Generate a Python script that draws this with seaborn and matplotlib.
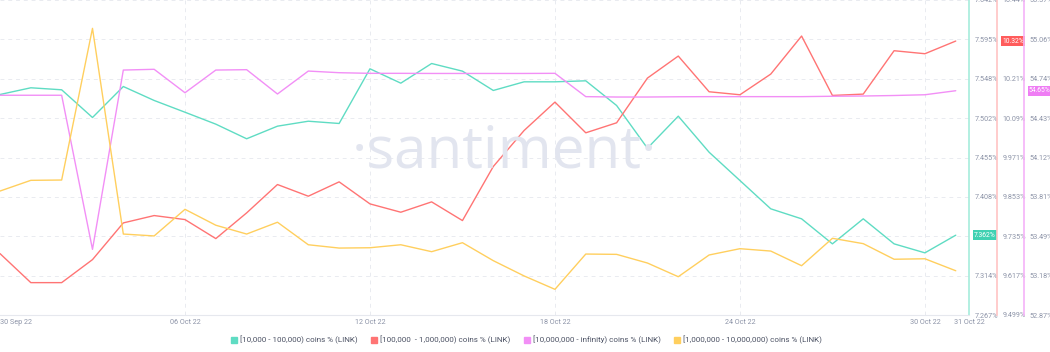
import numpy as np
import pandas as pd
import matplotlib
matplotlib.use("Agg")
import matplotlib.pyplot as plt
from matplotlib.lines import Line2D
import seaborn as sns

# ---------------- data ----------------
dates = pd.date_range("2022-09-30", "2022-10-31", freq="D")

teal_vals = [7.5295, 7.5375, 7.5351, 7.5021, 7.5390, 7.5224, 7.5084, 7.4942,
             7.4768, 7.4918, 7.4977, 7.4950, 7.5601, 7.5430, 7.5664, 7.5573,
             7.5343, 7.5446, 7.5446, 7.5458, 7.5164, 7.4656, 7.5037, 7.4608,
             7.4271, 7.3934, 7.3815, 7.3517, 7.3815, 7.3517, 7.3410, 7.3620]
red_vals = [9.683, 9.596, 9.596, 9.665, 9.775, 9.797, 9.785, 9.728,
            9.805, 9.890, 9.855, 9.898, 9.832, 9.807, 9.838, 9.782,
            9.944, 10.052, 10.137, 10.045, 10.075, 10.209, 10.275, 10.168,
            10.159, 10.221, 10.335, 10.157, 10.161, 10.291, 10.282, 10.320]
pink_vals = [54.614, 54.614, 54.614, 53.391, 54.814, 54.820, 54.634, 54.814,
             54.817, 54.624, 54.806, 54.793, 54.788, 54.788, 54.787, 54.787,
             54.787, 54.787, 54.788, 54.603, 54.600, 54.600, 54.602, 54.603,
             54.603, 54.603, 54.603, 54.606, 54.608, 54.612, 54.618, 54.650]
yellow_vals = [28.787, 28.855, 28.857, 29.820, 28.514, 28.502, 28.671, 28.570,
               28.514, 28.589, 28.446, 28.425, 28.427, 28.446, 28.402, 28.459,
               28.345, 28.248, 28.163, 28.387, 28.385, 28.330, 28.243, 28.381,
               28.421, 28.406, 28.313, 28.487, 28.453, 28.354, 28.357, 28.281]

series_names = ["[10,000 - 100,000) coins % (LINK)",
                "[100,000  - 1,000,000) coins % (LINK)",
                "[10,000,000 - infinity) coins % (LINK)",
                "[1,000,000 - 10,000,000) coins % (LINK)"]
x_tick_dates = ["2022-09-30", "2022-10-06", "2022-10-12", "2022-10-18",
                "2022-10-24", "2022-10-30"]
x_tick_labels = ["30 Sep 22", "06 Oct 22", "12 Oct 22", "18 Oct 22",
                 "24 Oct 22", "30 Oct 22"]
end_label = "31 Oct 22"

# tick labels (those hidden under the last-value boxes are left blank)
teal_ticklabels = ["7.267%", "7.314%", "", "7.408%", "7.455%",
                   "7.502%", "7.548%", "7.595%", "7.642%"]
red_ticklabels = ["9.499%", "9.617%", "9.735%", "9.853%", "9.971%",
                  "10.09%", "10.21%", "", "10.44%"]
pink_ticklabels = ["52.87%", "53.18%", "53.49%", "53.81%", "54.12%",
                   "54.43%", "54.74%", "55.06%", "55.37%"]
last_labels = ["7.362%", "10.32%", "54.65%"]

teal_lim = (7.267, 7.642)
red_lim = (9.499, 10.443)
pink_lim = (52.87, 55.37)
yellow_lim = (28.0, 30.0)

# ---------------- style ----------------
sns.set_style("white")
plt.rcParams["font.family"] = ["Roboto", "DejaVu Sans"]

c_teal, c_red, c_pink, c_yel = "#5fdcc3", "#ff7474", "#f28ff6", "#ffcf5e"
c_teal_ax, c_red_ax, c_pink_ax = "#a6ecdc", "#ffc4c4", "#f5b3f8"
tick_col = "#8d94a8"
grid_col = "#e9ebf0"

W, H = 1050, 352
fig = plt.figure(figsize=(W / 100, H / 100), dpi=100)
ax = fig.add_axes([0, 37 / H, 969 / W, 315 / H])
ax_r = ax.twinx()
ax_p = ax.twinx()
ax_y = ax.twinx()

x0 = dates[0]
ax.set_xlim(x0 + pd.Timedelta(days=0.1), x0 + pd.Timedelta(days=31.43))

# watermark
fig.text(504 / W, (H - 168) / H, "\u00b7santiment\u00b7", ha="center", va="baseline",
         fontsize=42, color="#e2e5ef", family=["Open Sans", "DejaVu Sans"],
         fontweight="normal", zorder=0)

lw = 1.0
sns.lineplot(x=dates, y=teal_vals, ax=ax, color=c_teal, linewidth=lw)
sns.lineplot(x=dates, y=red_vals, ax=ax_r, color=c_red, linewidth=lw)
sns.lineplot(x=dates, y=pink_vals, ax=ax_p, color=c_pink, linewidth=lw)
sns.lineplot(x=dates, y=yellow_vals, ax=ax_y, color=c_yel, linewidth=lw)

for a in (ax, ax_r, ax_p, ax_y):
    a.patch.set_alpha(0)
    for s in a.spines.values():
        s.set_visible(False)
    a.set_ylabel("")
    a.set_xlabel("")

ax.set_ylim(*teal_lim)
ax_r.set_ylim(*red_lim)
ax_p.set_ylim(*pink_lim)
ax_y.set_ylim(*yellow_lim)
ax_y.set_yticks([])

for a, lim, labels, col, pos in ((ax, teal_lim, teal_ticklabels, c_teal_ax, 1.0),
                                 (ax_r, red_lim, red_ticklabels, c_red_ax, 997 / 969),
                                 (ax_p, pink_lim, pink_ticklabels, c_pink_ax, 1024 / 969)):
    ticks = np.linspace(lim[0], lim[1], len(labels))
    a.yaxis.set_ticks_position("right")
    a.set_yticks(ticks)
    a.set_yticklabels(labels)
    a.tick_params(axis="y", length=0, pad=4, labelsize=5.2, labelcolor=tick_col,
                  left=False, labelleft=False, right=False, labelright=True)
    sp = a.spines["right"]
    sp.set_visible(True)
    sp.set_position(("axes", pos))
    sp.set_color(col)
    sp.set_linewidth(1.2)

# grid
ax.grid(True, axis="both", color=grid_col, linestyle=(0, (4, 4)), linewidth=0.7)
ax.set_axisbelow(True)
ax.spines["bottom"].set_visible(True)
ax.spines["bottom"].set_color("#e6e8ee")
ax.spines["bottom"].set_linewidth(0.8)

# x ticks
xt = [pd.Timestamp(d) for d in x_tick_dates] + [x0 + pd.Timedelta(days=31.43)]
ax.set_xticks(xt)
ax.set_xticklabels(x_tick_labels + [end_label])
ax.tick_params(axis="x", length=0, pad=3, labelsize=5.2, labelcolor=tick_col)
ax.get_xticklabels()[0].set_horizontalalignment("left")
ax.get_xgridlines()[-1].set_visible(False)
ax.get_xgridlines()[0].set_visible(False)

# last-value boxes
def box(a, val, text, xpix, col):
    a.annotate(text, xy=(xpix / 969, val),
               xycoords=("axes fraction", "data"), ha="left", va="center",
               fontsize=4.9, color="white",
               bbox=dict(boxstyle="square,pad=0.22", fc=col, ec="none"),
               annotation_clip=False, zorder=10)

box(ax, teal_vals[-1], last_labels[0], 974, "#3fd1b2")
box(ax_r, red_vals[-1], last_labels[1], 1002, "#ff5c5c")
box(ax_p, pink_vals[-1], last_labels[2], 1029, "#ef7df4")

# legend
handles = [Line2D([], [], marker="s", linestyle="", color=c, markersize=4.5)
           for c in (c_teal, c_red, c_pink, c_yel)]
fig.legend(handles, series_names, loc="center", bbox_to_anchor=(526 / W, 12 / H),
           ncol=4, frameon=False, fontsize=5.8, handletextpad=0.2,
           columnspacing=1.6, labelcolor="#4b5163", handlelength=1.0)

fig.savefig("out.png", dpi=100, facecolor="white")
